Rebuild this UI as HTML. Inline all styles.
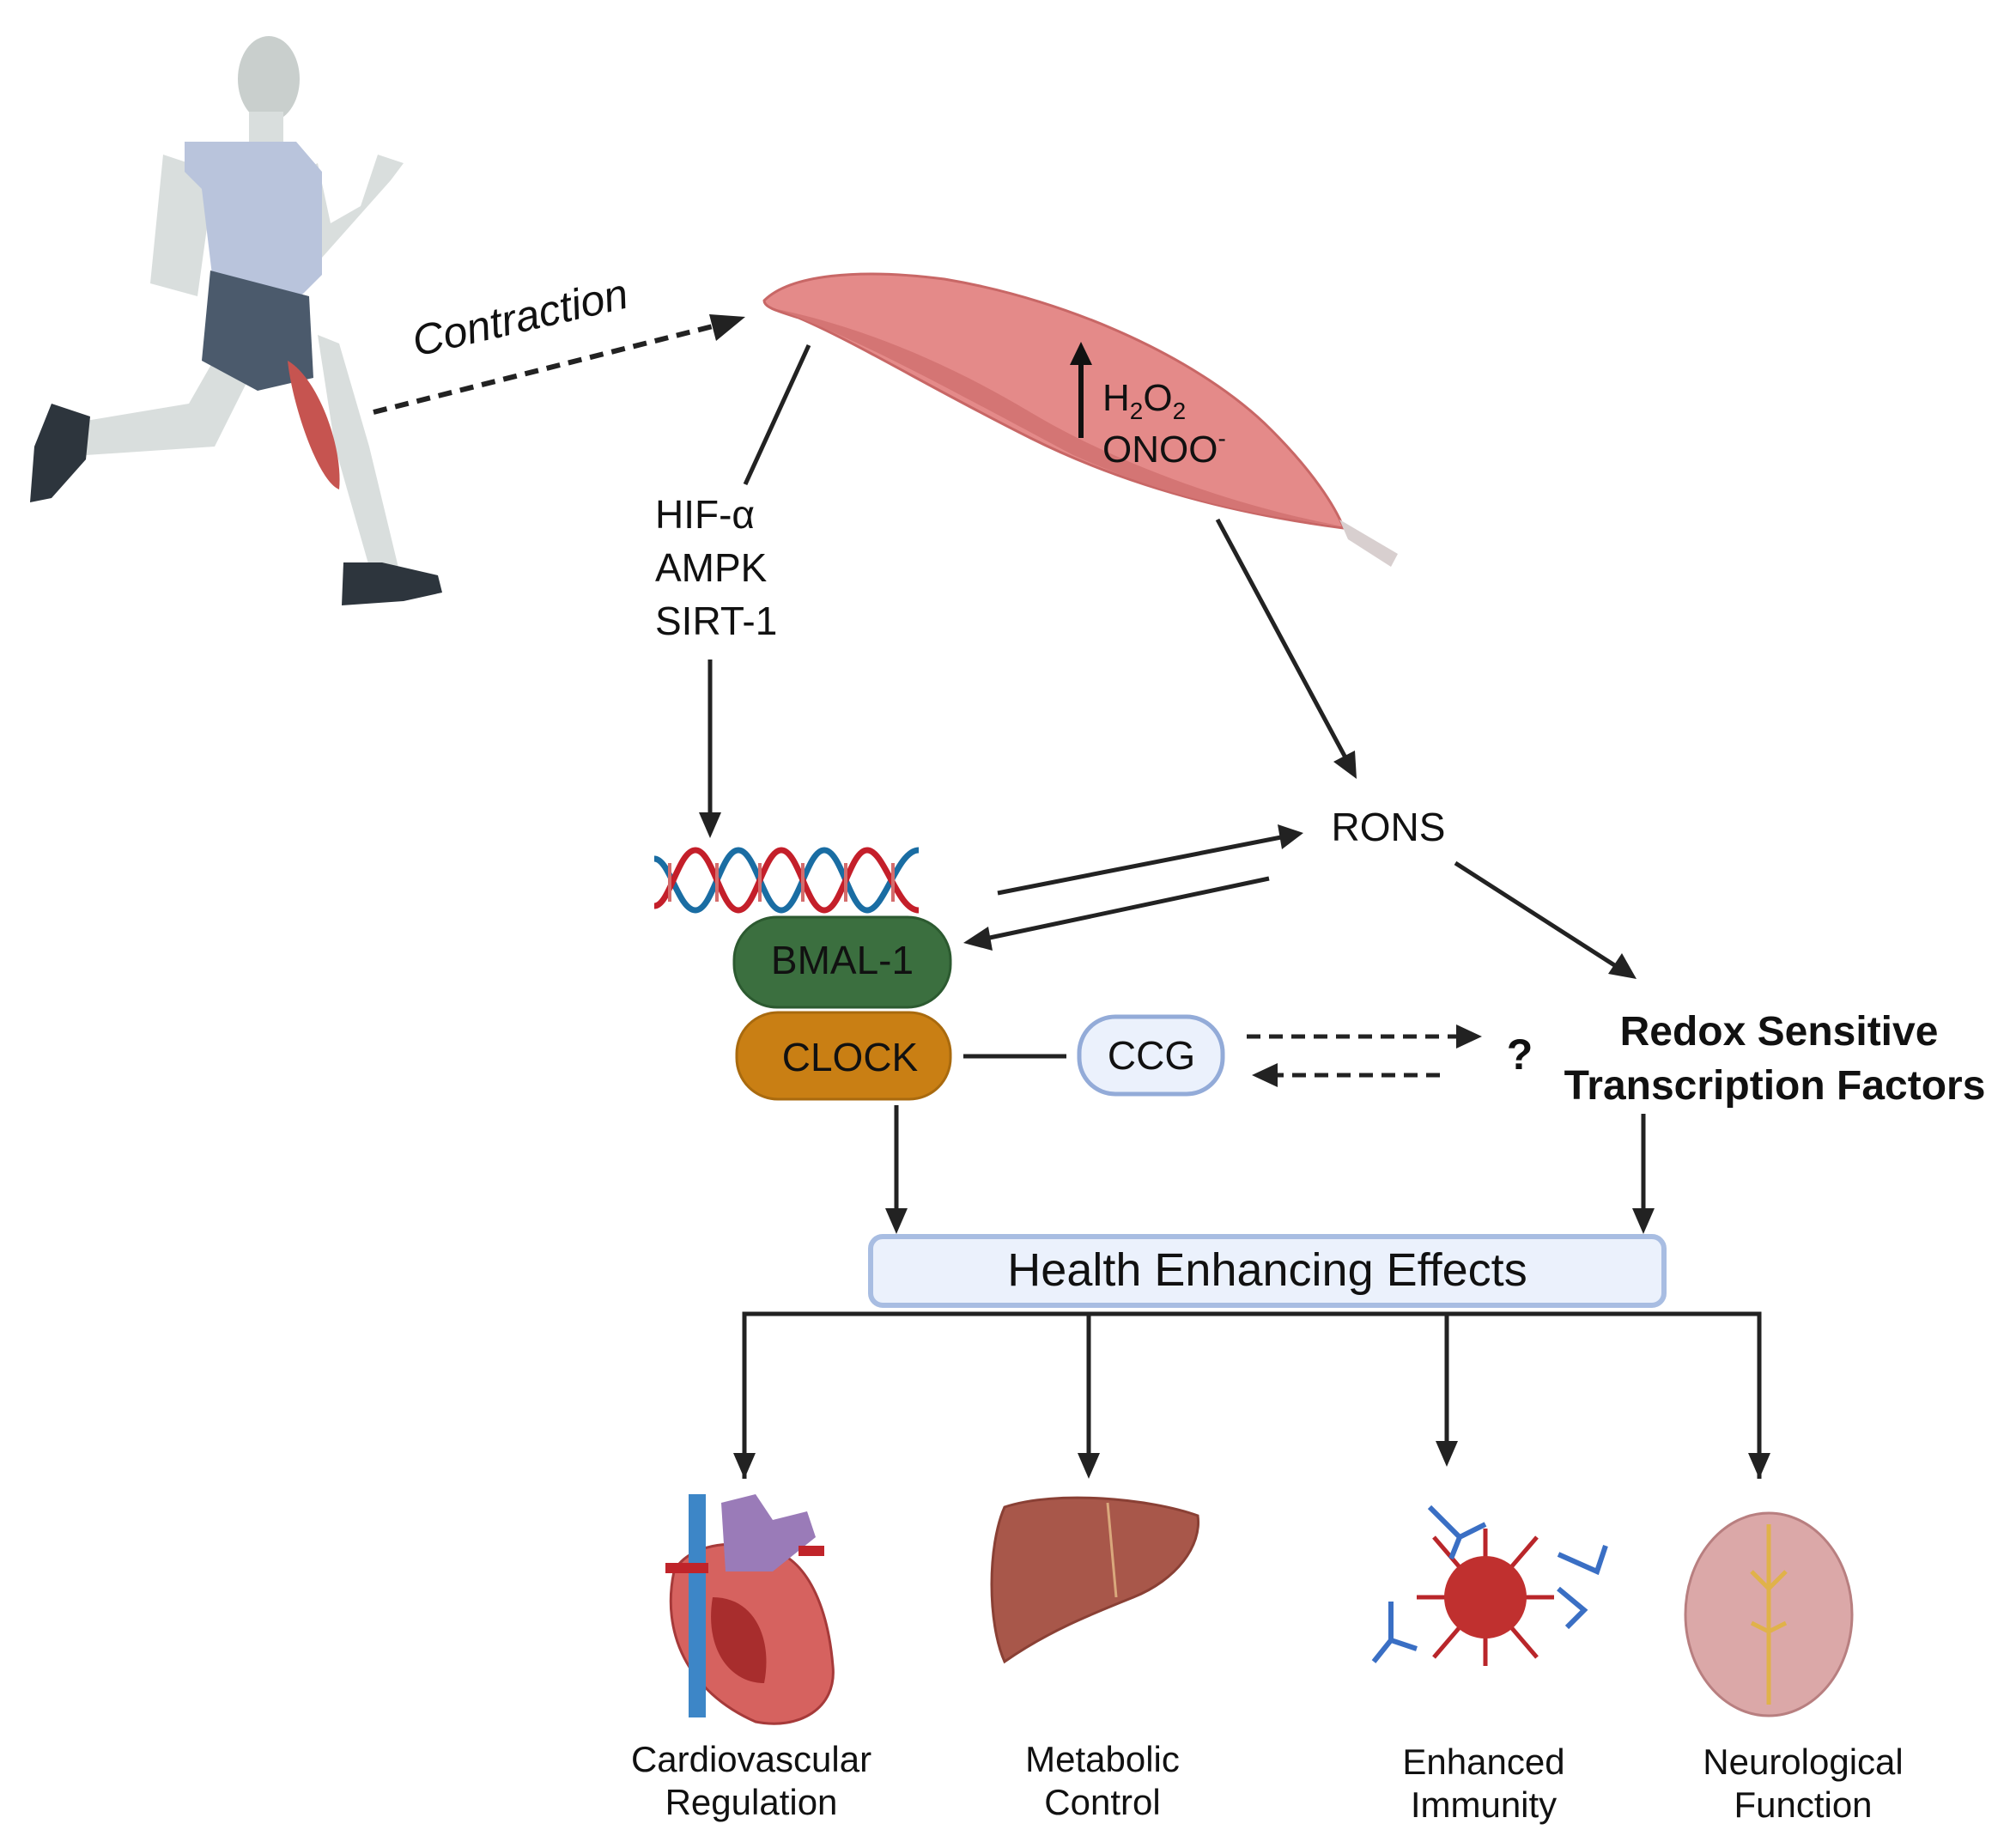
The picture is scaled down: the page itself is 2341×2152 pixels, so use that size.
<!DOCTYPE html>
<html><head><meta charset="utf-8"><style>
html,body{margin:0;padding:0;background:#fff;}
svg{display:block;font-family:"Liberation Sans",sans-serif;}
</style></head><body>
<svg width="2341" height="2152" viewBox="0 0 2341 2152" xmlns="http://www.w3.org/2000/svg">
<g fill="#d9dedd">
<ellipse cx="313" cy="92" rx="36" ry="50" fill="#c9cfcd"/>
<rect x="290" y="130" width="40" height="50"/>
<path d="M190 180 L175 330 L230 345 L250 200Z"/>
<path d="M350 200 L375 300 L455 210 L470 190 L440 180 L420 240 L385 260 L370 190Z"/>
<path d="M370 390 L390 520 L430 660 L465 665 L430 520 L395 400Z"/>
<path d="M260 400 L220 470 L100 490 L100 530 L250 520 L295 430Z"/>
</g>
<path d="M215 165 L345 165 L375 200 L375 320 L350 345 L250 345 L235 220 L215 200Z" fill="#b9c4dc"/>
<path d="M245 315 L360 345 L365 440 L300 455 L235 420Z" fill="#4b5a6c"/>
<path d="M335 420 C370 440 400 520 395 570 C370 560 340 470 335 420Z" fill="#c65450"/>
<path d="M60 470 L105 485 L100 535 L60 580 L35 585 L40 520Z" fill="#2d353d"/>
<path d="M400 655 L445 655 L510 670 L515 690 L470 700 L398 705Z" fill="#2d353d"/>
<text x="0" y="0" font-size="50" font-style="italic" fill="#111" transform="translate(485 415) rotate(-13)">Contraction</text>
<line x1="435" y1="480" x2="830" y2="380" stroke="#222" stroke-width="6" stroke-dasharray="16 10"/>
<polygon points="868,369 826,366 834,397" fill="#222"/>
<!-- muscle -->
<path d="M890 350 C920 320 1000 312 1100 325 C1250 350 1400 420 1480 500 C1530 550 1555 590 1565 615 C1450 600 1320 570 1200 510 C1080 450 1000 400 930 370 C905 362 890 358 890 350Z" fill="#e48a89" stroke="#c86766" stroke-width="3"/>
<path d="M905 360 C1000 395 1100 450 1250 530 C1350 575 1450 600 1560 612 C1440 590 1300 540 1200 480 C1100 420 1000 380 905 360Z" fill="#d47574"/>
<path d="M1560 605 L1628 645 L1620 660 L1570 628Z" fill="#d8cfcf"/>
<line x1="1259" y1="510" x2="1259" y2="420" stroke="#111" stroke-width="6"/>
<polygon points="1259,398 1246,425 1272,425" fill="#111"/>
<text x="1284" y="478" font-size="44" fill="#111">H<tspan font-size="28" dy="10">2</tspan><tspan dy="-10">O</tspan><tspan font-size="28" dy="10">2</tspan></text>
<text x="1284" y="538" font-size="44" fill="#111">ONOO<tspan font-size="28" dy="-18">-</tspan></text>
<line x1="942" y1="402" x2="868" y2="564" stroke="#222" stroke-width="5"/>
<text x="763" y="615" font-size="46" fill="#111">HIF-α</text>
<text x="763" y="677" font-size="46" fill="#111">AMPK</text>
<text x="763" y="739" font-size="46" fill="#111">SIRT-1</text>
<line x1="827" y1="768" x2="827" y2="950" stroke="#222" stroke-width="5"/>
<polygon points="827,976 814,946 840,946" fill="#222"/>
<g fill="none" stroke-width="7">
<path d="M762 1000 C780 1000 790 1060 810 1060 C830 1060 840 990 860 990 C880 990 890 1060 910 1060 C930 1060 940 990 960 990 C980 990 990 1060 1010 1060 C1030 1060 1045 990 1070 990" stroke="#1a6da3"/>
<path d="M762 1055 C780 1055 790 990 810 990 C830 990 840 1060 860 1060 C880 1060 890 990 910 990 C930 990 940 1060 960 1060 C980 1060 990 990 1010 990 C1030 990 1045 1060 1070 1060" stroke="#c41f2a"/>
</g>
<g stroke="#d46c6c" stroke-width="4">
<line x1="780" y1="1005" x2="780" y2="1050"/><line x1="835" y1="1005" x2="835" y2="1050"/><line x1="885" y1="1005" x2="885" y2="1050"/><line x1="935" y1="1005" x2="935" y2="1050"/><line x1="985" y1="1005" x2="985" y2="1050"/><line x1="1040" y1="1005" x2="1040" y2="1050"/>
</g>
<rect x="855" y="1068" width="252" height="105" rx="50" fill="#3b6f3f" stroke="#2c5a30" stroke-width="3"/>
<text x="981" y="1134" font-size="46" text-anchor="middle" fill="#111">BMAL-1</text>
<rect x="858" y="1179" width="249" height="101" rx="48" fill="#c97f14" stroke="#a96a0e" stroke-width="3"/>
<text x="990" y="1247" font-size="46" text-anchor="middle" fill="#111">CLOCK</text>
<line x1="1122" y1="1230" x2="1242" y2="1230" stroke="#222" stroke-width="5"/>
<rect x="1257" y="1184" width="167" height="90" rx="42" fill="#ebf1fc" stroke="#93abd8" stroke-width="5"/>
<text x="1341" y="1245" font-size="46" text-anchor="middle" fill="#111">CCG</text>
<line x1="1452" y1="1207" x2="1700" y2="1207" stroke="#222" stroke-width="5" stroke-dasharray="16 10"/>
<polygon points="1726,1207 1696,1193 1696,1221" fill="#222"/>
<line x1="1677" y1="1252" x2="1485" y2="1252" stroke="#222" stroke-width="5" stroke-dasharray="16 10"/>
<polygon points="1458,1252 1488,1238 1488,1266" fill="#222"/>
<text x="1770" y="1245" font-size="50" font-weight="bold" text-anchor="middle" fill="#111">?</text>
<text x="2072" y="1217" font-size="48" font-weight="bold" text-anchor="middle" fill="#111">Redox Sensitive</text>
<text x="2067" y="1280" font-size="48" font-weight="bold" text-anchor="middle" fill="#111">Transcription Factors</text>
<text x="1617" y="979" font-size="46" text-anchor="middle" fill="#111">RONS</text>
<line x1="1418" y1="605" x2="1568" y2="884" stroke="#222" stroke-width="5"/>
<polygon points="1580,907 1553,887 1578,874" fill="#222"/>
<line x1="1162" y1="1040" x2="1492" y2="975" stroke="#222" stroke-width="5"/>
<polygon points="1518,970 1488,960 1493,989" fill="#222"/>
<line x1="1478" y1="1023" x2="1148" y2="1093" stroke="#222" stroke-width="5"/>
<polygon points="1122,1098 1151,1079 1156,1107" fill="#222"/>
<line x1="1695" y1="1005" x2="1885" y2="1127" stroke="#222" stroke-width="5"/>
<polygon points="1906,1140 1873,1134 1889,1110" fill="#222"/>
<line x1="1044" y1="1287" x2="1044" y2="1410" stroke="#222" stroke-width="5"/>
<polygon points="1044,1437 1031,1407 1057,1407" fill="#222"/>
<line x1="1914" y1="1297" x2="1914" y2="1410" stroke="#222" stroke-width="5"/>
<polygon points="1914,1437 1901,1407 1927,1407" fill="#222"/>
<rect x="1014" y="1440" width="924" height="80" rx="14" fill="#ebf1fc" stroke="#a8bde2" stroke-width="6"/>
<text x="1476" y="1497" font-size="54" text-anchor="middle" fill="#111">Health Enhancing Effects</text>
<polyline points="867,1722 867,1530 2049,1530 2049,1722" fill="none" stroke="#222" stroke-width="5"/>
<line x1="1268" y1="1530" x2="1268" y2="1700" stroke="#222" stroke-width="5"/>
<line x1="1685" y1="1530" x2="1685" y2="1700" stroke="#222" stroke-width="5"/>
<g fill="#222">
<polygon points="867,1722 854,1692 880,1692"/><polygon points="1268,1722 1255,1692 1281,1692"/><polygon points="1685,1708 1672,1678 1698,1678"/><polygon points="2049,1722 2036,1692 2062,1692"/>
</g>
<!-- heart -->
<path d="M785 1830 C770 1900 800 1970 880 2005 C930 2015 975 1990 970 1940 C965 1880 945 1820 900 1805 C850 1790 800 1800 785 1830Z" fill="#d6625f" stroke="#a63a3a" stroke-width="3"/>
<path d="M830 1860 C820 1920 850 1960 890 1960 C900 1910 880 1860 830 1860Z" fill="#a82d2d"/>
<path d="M840 1750 L845 1830 L900 1830 L950 1790 L940 1760 L900 1770 L880 1740Z" fill="#9a7bb8"/>
<rect x="802" y="1740" width="20" height="260" fill="#3d86c7"/>
<rect x="775" y="1820" width="50" height="12" fill="#c0242a"/>
<rect x="930" y="1800" width="30" height="12" fill="#c0242a"/>
<!-- liver -->
<path d="M1170 1755 C1230 1735 1340 1745 1395 1765 C1400 1800 1370 1840 1320 1860 C1270 1880 1220 1900 1170 1935 C1150 1890 1150 1800 1170 1755Z" fill="#a8574a" stroke="#8a4035" stroke-width="3"/>
<line x1="1290" y1="1750" x2="1300" y2="1860" stroke="#d9a87c" stroke-width="3"/>
<!-- virus -->
<g stroke="#b9262a" stroke-width="5"><line x1="1670" y1="1790" x2="1790" y2="1930"/><line x1="1790" y1="1790" x2="1670" y2="1930"/><line x1="1730" y1="1780" x2="1730" y2="1940"/><line x1="1650" y1="1860" x2="1810" y2="1860"/></g>
<circle cx="1730" cy="1860" r="48" fill="#c0302f"/>
<g fill="none" stroke="#3a6fc4" stroke-width="6"><path d="M1665 1755 L1700 1790 L1690 1815 M1700 1790 L1730 1775"/><path d="M1815 1810 L1860 1830 L1870 1800 M1815 1850 L1845 1875 L1825 1895"/><path d="M1620 1865 L1620 1910 L1650 1920 M1620 1910 L1600 1935"/></g>
<!-- brain -->
<ellipse cx="2060" cy="1880" rx="97" ry="118" fill="#dba8a8" stroke="#b87f80" stroke-width="3"/>
<path d="M2060 1775 L2060 1985 M2040 1830 L2060 1850 L2080 1830 M2040 1890 L2060 1900 L2080 1890" stroke="#e0b24a" stroke-width="5" fill="none"/>
<g font-size="42" text-anchor="middle" fill="#111">
<text x="875" y="2063">Cardiovascular</text><text x="875" y="2113">Regulation</text>
<text x="1284" y="2063">Metabolic</text><text x="1284" y="2113">Control</text>
<text x="1728" y="2066">Enhanced</text><text x="1728" y="2116">Immunity</text>
<text x="2100" y="2066">Neurological</text><text x="2100" y="2116">Function</text>
</g>
</svg>
</body></html>
